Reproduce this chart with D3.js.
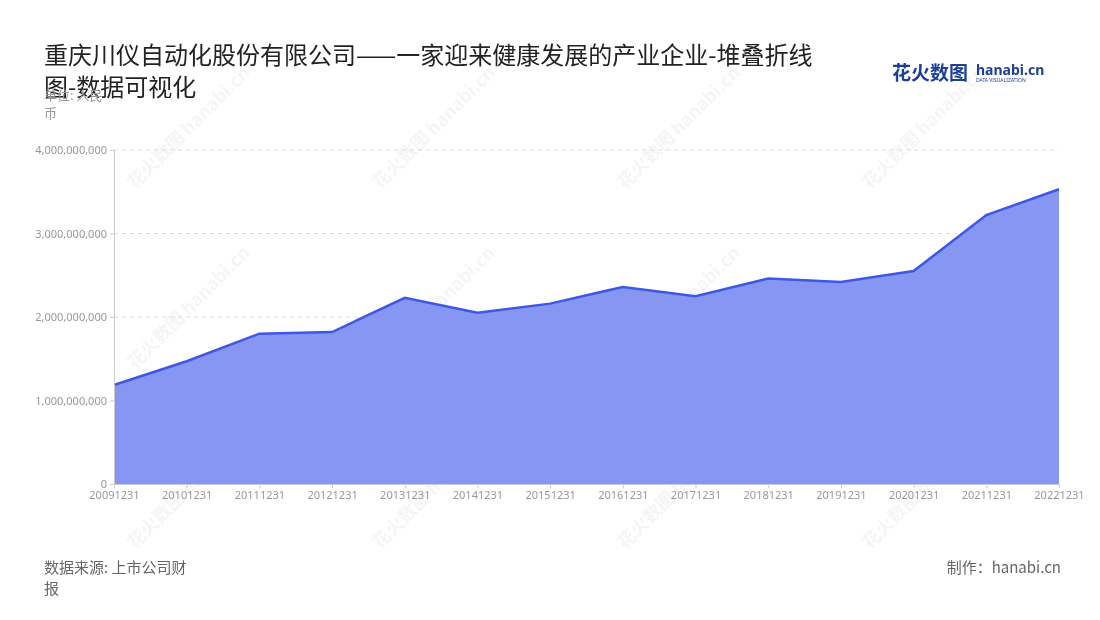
<!DOCTYPE html>
<html>
<head>
<meta charset="utf-8">
<script src="https://cdn.jsdelivr.net/npm/d3@7"></script>
<style>
  body { margin: 0; background: #fff; font-family: "Noto Sans CJK SC", "Noto Sans", sans-serif; }
</style>
</head>
<body>
<svg id="chart" width="1100" height="620"></svg>
<script>
const years = ["20091231", "20101231", "20111231", "20121231", "20131231", "20141231", "20151231",
  "20161231", "20171231", "20181231", "20191231", "20201231", "20211231", "20221231"];
const revenue = [1.186e9, 1.47e9, 1.80e9, 1.82e9, 2.23e9, 2.05e9, 2.16e9,
  2.36e9, 2.25e9, 2.46e9, 2.42e9, 2.55e9, 3.22e9, 3.53e9];
const yTicks = [0, 1e9, 2e9, 3e9, 4e9];

const svg = d3.select("#chart");
const margin = { top: 150, right: 41, bottom: 136, left: 114 };
const width = 1100, height = 620;

const x = d3.scalePoint().domain(years).range([margin.left, width - margin.right]);
const y = d3.scaleLinear().domain([0, 4e9]).range([height - margin.bottom, margin.top]);

// Watermarks
const wm = svg.append("g").attr("opacity", 0.05).attr("fill", "#333");
[[135, 190], [380, 190], [625, 190], [870, 190],
 [135, 370], [380, 370], [625, 370], [870, 370],
 [135, 550], [380, 550], [625, 550], [870, 550]].forEach(([px, py]) => {
  wm.append("text")
    .attr("transform", `translate(${px},${py}) rotate(-45)`)
    .style("font-size", "18px").style("font-weight", "bold")
    .text("花火数图 hanabi.cn");
});

// Grid lines
svg.append("g").selectAll("line")
  .data(yTicks.filter(d => d > 0))
  .join("line")
  .attr("x1", margin.left).attr("x2", width - margin.right)
  .attr("y1", d => y(d)).attr("y2", d => y(d))
  .attr("stroke", "#ddd").attr("stroke-dasharray", "4,4");

// Area + line
const area = d3.area().x((d, i) => x(years[i])).y0(y(0)).y1(d => y(d));
const line = d3.line().x((d, i) => x(years[i])).y(d => y(d));

svg.append("path").datum(revenue)
  .attr("fill", "#8796f2").attr("d", area);
svg.append("path").datum(revenue)
  .attr("fill", "none").attr("stroke", "#3d57e8").attr("stroke-width", 2.5)
  .attr("d", line);

// Y axis
const yAxis = svg.append("g")
  .attr("transform", `translate(${margin.left},0)`)
  .call(d3.axisLeft(y).tickValues(yTicks).tickFormat(d3.format(",")).tickSize(4));
yAxis.select(".domain").attr("stroke", "#ccc");
yAxis.selectAll(".tick line").attr("stroke", "#ccc");
yAxis.selectAll("text").attr("fill", "#999").style("font-size", "11px")
  .style("font-family", "Noto Sans, sans-serif");

// X axis
const xAxis = svg.append("g")
  .attr("transform", `translate(0,${y(0)})`)
  .call(d3.axisBottom(x).tickSize(4));
xAxis.select(".domain").attr("stroke", "#ccc");
xAxis.selectAll(".tick line").attr("stroke", "#ccc");
xAxis.selectAll("text").attr("fill", "#999").style("font-size", "11px")
  .style("font-family", "Noto Sans, sans-serif");

// Title
const title = svg.append("text").attr("fill", "#222").style("font-size", "24px");
title.append("tspan").attr("x", 44).attr("y", 64).text("重庆川仪自动化股份有限公司——一家迎来健康发展的产业企业-堆叠折线");
title.append("tspan").attr("x", 44).attr("y", 96).text("图-数据可视化");

// Unit
const unit = svg.append("text").attr("fill", "#999").style("font-size", "13px");
unit.append("tspan").attr("x", 44).attr("y", 100).text("单位: 人民");
unit.append("tspan").attr("x", 44).attr("y", 118).text("币");

// Logo
svg.append("text").attr("x", 892).attr("y", 80).attr("fill", "#1d3f9a")
  .style("font-size", "19px").style("font-weight", "bold").text("花火数图");
svg.append("text").attr("x", 976).attr("y", 75).attr("fill", "#1d3f9a")
  .style("font-size", "14px").style("font-weight", "bold").style("font-family", "Noto Sans, sans-serif")
  .text("hanabi.cn");
svg.append("text").attr("x", 976).attr("y", 82).attr("fill", "#1d3f9a")
  .style("font-size", "5px").style("font-family", "Noto Sans, sans-serif")
  .text("DATA VISUALIZATION");

// Footer
const src = svg.append("text").attr("fill", "#666").style("font-size", "15px");
src.append("tspan").attr("x", 44).attr("y", 573).text("数据来源: 上市公司财");
src.append("tspan").attr("x", 44).attr("y", 594).text("报");
svg.append("text").attr("x", 1061).attr("y", 573).attr("text-anchor", "end")
  .attr("fill", "#666").style("font-size", "15px").text("制作：hanabi.cn");
</script>
</body>
</html>
